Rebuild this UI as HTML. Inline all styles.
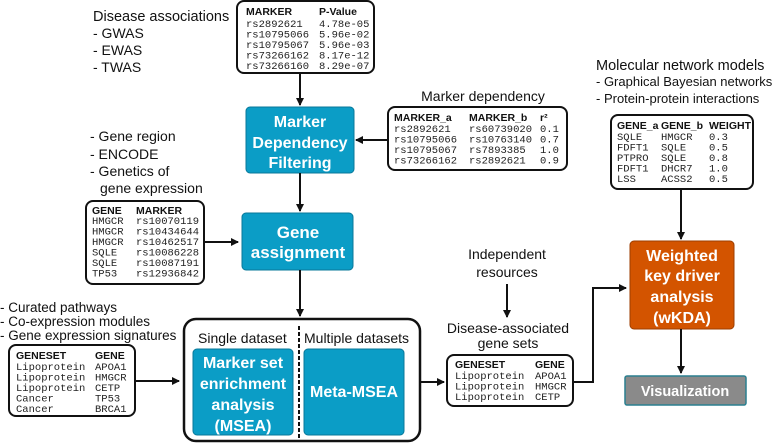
<!DOCTYPE html>
<html><head><meta charset="utf-8"><style>
html,body{margin:0;padding:0;background:#fff;}
svg{display:block;}
.s{font-family:"Liberation Sans",sans-serif;fill:#111;}
.m{font-family:"Liberation Mono",monospace;font-size:10.5px;fill:#222;}
.h{font-family:"Liberation Sans",sans-serif;font-weight:bold;font-size:10.5px;fill:#111;}
.w{font-family:"Liberation Sans",sans-serif;font-weight:bold;fill:#fff;text-anchor:middle;}
.tb{fill:#fff;stroke:#111;stroke-width:2;}
.ln{stroke:#111;stroke-width:2;fill:none;}
</style></head><body>
<svg width="778" height="444" viewBox="0 0 778 444" xmlns="http://www.w3.org/2000/svg">
<defs><marker id="a" markerWidth="8" markerHeight="8" refX="7" refY="4" orient="auto" markerUnits="userSpaceOnUse"><path d="M0,0 L8,4 L0,8 z" fill="#111"/></marker></defs>

<text class="s" font-size="14.5" x="93" y="21">Disease associations</text>
<text class="s" font-size="14" x="93" y="38">- GWAS</text>
<text class="s" font-size="14" x="93" y="55">- EWAS</text>
<text class="s" font-size="14" x="93" y="72">- TWAS</text>

<rect class="tb" x="237" y="1" width="137" height="72" rx="7"/>
<text class="h" x="246" y="15">MARKER</text><text class="h" x="319" y="15">P-Value</text>
<text class="m" x="246" y="27">rs2892621</text><text class="m" x="319" y="27">4.78e-05</text>
<text class="m" x="246" y="37.5">rs10795066</text><text class="m" x="319" y="37.5">5.96e-02</text>
<text class="m" x="246" y="48">rs10795067</text><text class="m" x="319" y="48">5.96e-03</text>
<text class="m" x="246" y="58.5">rs73266162</text><text class="m" x="319" y="58.5">8.17e-12</text>
<text class="m" x="246" y="69">rs73266160</text><text class="m" x="319" y="69">8.29e-07</text>
<line class="ln" x1="300" y1="74" x2="300" y2="105" marker-end="url(#a)"/>

<rect x="246" y="107" width="108" height="66" rx="4" fill="#0b9dc6" stroke="#08789a"/>
<text class="w" font-size="16" x="300" y="127">Marker</text>
<text class="w" font-size="16" x="300" y="148">Dependency</text>
<text class="w" font-size="16" x="300" y="168">Filtering</text>

<text class="s" font-size="14" x="483" y="101" text-anchor="middle">Marker dependency</text>
<rect class="tb" x="388" y="107" width="179" height="63" rx="7"/>
<text class="h" x="394" y="121">MARKER_a</text><text class="h" x="469" y="121">MARKER_b</text><text class="h" x="540" y="121">r²</text>
<text class="m" x="394" y="132">rs2892621</text><text class="m" x="469" y="132">rs60739020</text><text class="m" x="540" y="132">0.1</text>
<text class="m" x="394" y="142.5">rs10795066</text><text class="m" x="469" y="142.5">rs10763140</text><text class="m" x="540" y="142.5">0.7</text>
<text class="m" x="394" y="153">rs10795067</text><text class="m" x="469" y="153">rs7893385</text><text class="m" x="540" y="153">1.0</text>
<text class="m" x="394" y="163.5">rs73266162</text><text class="m" x="469" y="163.5">rs2892621</text><text class="m" x="540" y="163.5">0.9</text>
<line class="ln" x1="388" y1="140" x2="356" y2="140" marker-end="url(#a)"/>
<line class="ln" x1="300" y1="173" x2="300" y2="211" marker-end="url(#a)"/>

<text class="s" font-size="14" x="90" y="141">- Gene region</text>
<text class="s" font-size="14" x="90" y="159">- ENCODE</text>
<text class="s" font-size="14" x="90" y="176">- Genetics of</text>
<text class="s" font-size="14" x="100" y="193">gene expression</text>

<rect class="tb" x="86" y="201" width="118" height="83" rx="7"/>
<text class="h" x="92" y="214">GENE</text><text class="h" x="136" y="214">MARKER</text>
<text class="m" x="92" y="224">HMGCR</text><text class="m" x="136" y="224">rs10070119</text>
<text class="m" x="92" y="234.5">HMGCR</text><text class="m" x="136" y="234.5">rs10434644</text>
<text class="m" x="92" y="245">HMGCR</text><text class="m" x="136" y="245">rs10462517</text>
<text class="m" x="92" y="255.5">SQLE</text><text class="m" x="136" y="255.5">rs10086228</text>
<text class="m" x="92" y="266">SQLE</text><text class="m" x="136" y="266">rs10087191</text>
<text class="m" x="92" y="276.5">TP53</text><text class="m" x="136" y="276.5">rs12936842</text>
<line class="ln" x1="204" y1="242" x2="238" y2="242" marker-end="url(#a)"/>

<rect x="242" y="213" width="111" height="57" rx="4" fill="#0b9dc6" stroke="#08789a"/>
<text class="w" font-size="17" x="298" y="238">Gene</text>
<text class="w" font-size="17" x="298" y="258">assignment</text>
<line class="ln" x1="300" y1="270" x2="300" y2="316" marker-end="url(#a)"/>

<text class="s" font-size="13.5" x="0" y="312">- Curated pathways</text>
<text class="s" font-size="13.5" x="0" y="326">- Co-expression modules</text>
<text class="s" font-size="13.5" x="0" y="340">- Gene expression signatures</text>
<rect class="tb" x="9" y="345" width="126" height="71" rx="7"/>
<text class="h" x="16" y="359">GENESET</text><text class="h" x="95" y="359">GENE</text>
<text class="m" x="16" y="370">Lipoprotein</text><text class="m" x="95" y="370">APOA1</text>
<text class="m" x="16" y="380.5">Lipoprotein</text><text class="m" x="95" y="380.5">HMGCR</text>
<text class="m" x="16" y="391">Lipoprotein</text><text class="m" x="95" y="391">CETP</text>
<text class="m" x="16" y="401.5">Cancer</text><text class="m" x="95" y="401.5">TP53</text>
<text class="m" x="16" y="412">Cancer</text><text class="m" x="95" y="412">BRCA1</text>
<line class="ln" x1="135" y1="381" x2="179" y2="381" marker-end="url(#a)"/>

<rect x="184" y="319" width="236" height="122" rx="12" fill="#fff" stroke="#111" stroke-width="2.5"/>
<text class="s" font-size="14" x="198" y="343">Single dataset</text>
<text class="s" font-size="14" x="304" y="343">Multiple datasets</text>
<line x1="299" y1="326" x2="299" y2="440" stroke="#111" stroke-width="2" stroke-dasharray="4,2"/>
<rect x="193" y="349" width="100" height="86" rx="4" fill="#0b9dc6" stroke="#08789a"/>
<text class="w" font-size="16" x="243" y="368">Marker set</text>
<text class="w" font-size="16" x="243" y="389">enrichment</text>
<text class="w" font-size="16" x="243" y="410">analysis</text>
<text class="w" font-size="16" x="243" y="431">(MSEA)</text>
<rect x="304" y="349" width="100" height="86" rx="4" fill="#0b9dc6" stroke="#08789a"/>
<text class="w" font-size="16" x="354" y="397">Meta-MSEA</text>
<line class="ln" x1="420" y1="382" x2="444" y2="382" marker-end="url(#a)"/>

<text class="s" font-size="14" x="507" y="259" text-anchor="middle">Independent</text>
<text class="s" font-size="14" x="507" y="277" text-anchor="middle">resources</text>
<line class="ln" x1="507" y1="284" x2="507" y2="317" marker-end="url(#a)"/>
<text class="s" font-size="14" x="508" y="333" text-anchor="middle">Disease-associated</text>
<text class="s" font-size="14" x="508" y="348" text-anchor="middle">gene sets</text>
<rect class="tb" x="447" y="355" width="126" height="51" rx="7"/>
<text class="h" x="455" y="368">GENESET</text><text class="h" x="535" y="368">GENE</text>
<text class="m" x="455" y="379">Lipoprotein</text><text class="m" x="535" y="379">APOA1</text>
<text class="m" x="455" y="389.5">Lipoprotein</text><text class="m" x="535" y="389.5">HMGCR</text>
<text class="m" x="455" y="400">Lipoprotein</text><text class="m" x="535" y="400">CETP</text>
<polyline class="ln" points="573,382 593,382 593,288 626,288" marker-end="url(#a)"/>

<text class="s" font-size="14.5" x="596" y="70">Molecular network models</text>
<text class="s" font-size="13" x="596" y="86">- Graphical Bayesian networks</text>
<text class="s" font-size="13" x="596" y="103">- Protein-protein interactions</text>
<rect class="tb" x="611" y="115" width="142" height="74" rx="7"/>
<text class="h" font-size="9.5" x="617" y="129">GENE_a</text><text class="h" font-size="9.5" x="661" y="129">GENE_b</text><text class="h" font-size="9.5" x="709" y="129">WEIGHT</text>
<text class="m" x="617" y="140">SQLE</text><text class="m" x="661" y="140">HMGCR</text><text class="m" x="709" y="140">0.3</text>
<text class="m" x="617" y="150.5">FDFT1</text><text class="m" x="661" y="150.5">SQLE</text><text class="m" x="709" y="150.5">0.5</text>
<text class="m" x="617" y="161">PTPRO</text><text class="m" x="661" y="161">SQLE</text><text class="m" x="709" y="161">0.8</text>
<text class="m" x="617" y="171.5">FDFT1</text><text class="m" x="661" y="171.5">DHCR7</text><text class="m" x="709" y="171.5">1.0</text>
<text class="m" x="617" y="182">LSS</text><text class="m" x="661" y="182">ACSS2</text><text class="m" x="709" y="182">0.5</text>
<line class="ln" x1="681" y1="189" x2="681" y2="239" marker-end="url(#a)"/>

<rect x="630" y="241" width="104" height="88" rx="4" fill="#d35400" stroke="#9c3e00"/>
<text class="w" font-size="16" x="682" y="261">Weighted</text>
<text class="w" font-size="16" x="682" y="281">key driver</text>
<text class="w" font-size="16" x="682" y="302">analysis</text>
<text class="w" font-size="16" x="682" y="323">(wKDA)</text>
<line class="ln" x1="681" y1="329" x2="681" y2="373" marker-end="url(#a)"/>
<rect x="625" y="376" width="121" height="29" rx="2" fill="#8a8a8a" stroke="#2a7f8f" stroke-width="1.5"/>
<text class="w" font-size="14.5" x="685" y="396" fill="#f2f2f2">Visualization</text>
</svg>
</body></html>
